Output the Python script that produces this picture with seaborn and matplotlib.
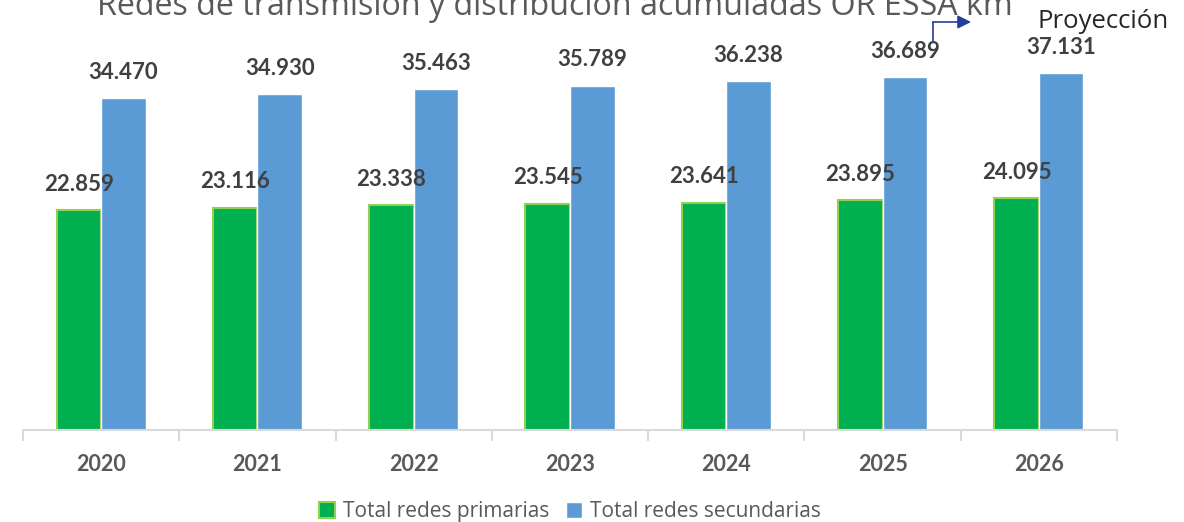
import numpy as np
import pandas as pd
import matplotlib.pyplot as plt
import seaborn as sns
from matplotlib.ticker import FixedLocator

# Datos (km)
years = ['2020', '2021', '2022', '2023', '2024', '2025', '2026']
primarias = [22859, 23116, 23338, 23545, 23641, 23895, 24095]
secundarias = [34470, 34930, 35463, 35789, 36238, 36689, 37131]
series = ['Total redes primarias', 'Total redes secundarias']
colors = ['#00B050', '#5B9BD5']

df = pd.DataFrame({
    'Año': years * 2,
    'km': primarias + secundarias,
    'Serie': [series[0]] * len(years) + [series[1]] * len(years),
})

sns.set_theme(style='white')
plt.rcParams['font.family'] = ['Lato', 'DejaVu Sans']

fig = plt.figure(figsize=(11.84, 5.22), dpi=100)
ax = fig.add_axes([23 / 1184, 1 - 430 / 522, 1094 / 1184, 430 / 522])

sns.barplot(data=df, x='Año', y='km', hue='Serie', palette=colors,
            width=0.57, gap=0, saturation=1, ax=ax, legend=True)

# borde verde claro en las barras primarias
for p in ax.containers[0]:
    p.set_edgecolor('#92D050')
    p.set_linewidth(1.5)

def fmt(v):
    return f'{int(v):,}'.replace(',', '.')

for cont in ax.containers:
    ax.bar_label(cont, labels=[fmt(b.get_height()) for b in cont], padding=11,
                 fontsize=16, fontweight='bold', color='#404040')

ax.set_ylim(0, 44700)
ax.set_xlim(-0.5, len(years) - 0.5)
ax.set_yticks([])
ax.set_xlabel('')
ax.set_ylabel('')
for s in ['top', 'right', 'left']:
    ax.spines[s].set_visible(False)
ax.spines['bottom'].set_color('#D9D9D9')
ax.spines['bottom'].set_linewidth(1.5)

ax.tick_params(axis='x', which='major', length=0, pad=17, labelsize=15.5,
               labelcolor='#595959')
for t in ax.get_xticklabels():
    t.set_fontweight('bold')
ax.xaxis.set_minor_locator(FixedLocator(np.arange(-0.5, len(years), 1)))
ax.tick_params(axis='x', which='minor', bottom=True, length=8, width=1.5,
               color='#D9D9D9', direction='out')

leg = ax.legend(loc='center', bbox_to_anchor=(0.5, -0.19), ncol=2, frameon=False,
                prop={'family': 'Open Sans', 'size': 15}, handlelength=0.75,
                handleheight=0.75, handletextpad=0.4, columnspacing=0.8)
for t in leg.get_texts():
    t.set_color('#595959')
leg.legend_handles[0].set_edgecolor('#92D050')
leg.legend_handles[0].set_linewidth(1.5)

fig.text(555 / 1184, 1 - 15 / 522,
         'Redes de transmisión y distribución acumuladas OR ESSA km',
         ha='center', va='baseline', fontsize=23.2, color='#595959',
         family='Open Sans')

# flecha de proyección
fig.add_artist(plt.Line2D([933 / 1184, 933 / 1184], [1 - 42 / 522, 1 - 22 / 522],
                          color='#1F3F99', lw=1.2, transform=fig.transFigure))
ax.annotate('', xy=(971 / 1184, 1 - 22 / 522), xytext=(933 / 1184, 1 - 22 / 522),
            xycoords='figure fraction', textcoords='figure fraction',
            arrowprops=dict(arrowstyle='-|>', color='#1F3F99', lw=1.2,
                            mutation_scale=20, shrinkA=0, shrinkB=0))
fig.text(1038 / 1184, 1 - 22 / 522, 'Proyección', ha='left', va='center',
         fontsize=18.5, color='#262626', family='Open Sans')

fig.savefig('out.png', dpi=100)
